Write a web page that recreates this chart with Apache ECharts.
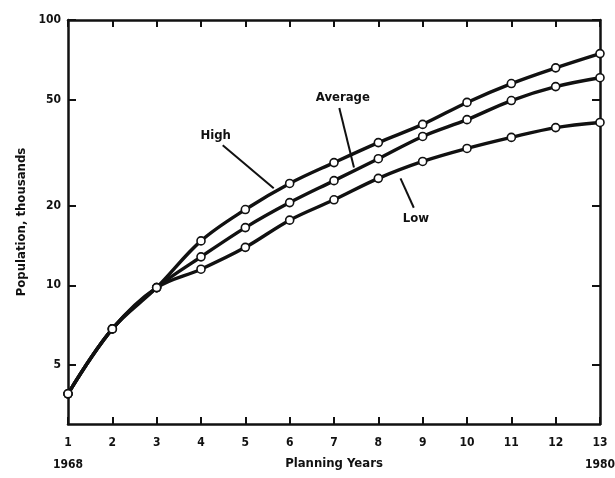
<!DOCTYPE html>
<html>
<head>
<meta charset="utf-8">
<script src="https://cdn.jsdelivr.net/npm/echarts@6/dist/echarts.min.js"></script>
<style>
  html, body { margin: 0; padding: 0; background: #fff; }
  #chart { width: 615px; height: 478px; }
</style>
</head>
<body>
<div id="chart"></div>
<script>
// planning years 1..13 (1968 .. 1980)
const years = [1, 2, 3, 4, 5, 6, 7, 8, 9, 10, 11, 12, 13];
// population, thousands
const highVals = [3.9, 6.85, 9.8, 14.7, 19.3, 24.2, 29, 34.5, 40.4, 48.9, 57.6, 66, 74.7];
const avgVals  = [3.9, 6.85, 9.8, 12.8, 16.5, 20.5, 24.8, 30, 36.4, 42.1, 49.7, 56.1, 60.6];
const lowVals  = [3.9, 6.85, 9.8, 11.5, 13.9, 17.6, 21, 25.3, 29.3, 32.8, 36.1, 39.3, 41.1];
const yTicks = [5, 10, 20, 50, 100];

// annotation labels and leader lines, in data coords
const noteLabels = [
  { text: 'High', at: [4.33, 36.7] },
  { text: 'Average', at: [7.2, 51] },
  { text: 'Low', at: [8.85, 17.9] }
];
const noteLines = [
  [[4.49, 33.7], [5.64, 23.2]],
  [[7.12, 46.6], [7.45, 27.8]],
  [[8.8, 19.6], [8.5, 25.3]]
];

const ink = '#111';
const font = 'DejaVu Sans Condensed';

function pairs(vals) {
  return years.map((x, i) => [x, vals[i]]);
}

function lineSeries(name, vals) {
  return {
    name: name,
    type: 'line',
    data: pairs(vals),
    smooth: 0.35,
    symbol: 'circle',
    symbolSize: 8,
    itemStyle: { color: '#fff', borderColor: ink, borderWidth: 1.6 },
    lineStyle: { color: ink, width: 3.4 },
    z: 3
  };
}

let chart = echarts.init(document.getElementById('chart'));

let axisBase = {
  type: 'value',
  min: 1,
  max: 13,
  interval: 1,
  axisLine: { show: true, lineStyle: { color: ink, width: 2.5 } },
  axisTick: { show: true, inside: true, length: 7, lineStyle: { color: ink, width: 2 } },
  splitLine: { show: false }
};

let option = {
  animation: false,
  backgroundColor: '#fff',
  grid: { left: 68, right: 15, top: 20, bottom: 54, containLabel: false, outerBoundsMode: 'none' },
  xAxis: [
    Object.assign({}, axisBase, {
      position: 'bottom',
      name: 'Planning Years',
      nameLocation: 'middle',
      nameGap: 33,
      nameMoveOverlap: false,
      nameTextStyle: { color: ink, fontFamily: font, fontWeight: 'bold', fontSize: 13 },
      axisLabel: {
        color: ink,
        fontFamily: font,
        fontWeight: 'bold',
        fontSize: 12,
        margin: 9,
        formatter: function (v) {
          if (v === 1) return '{n|1}\n{y|1968}';
          if (v === 13) return '{n|13}\n{y|1980}';
          return '{n|' + v + '}';
        },
        rich: {
          n: { fontFamily: font, fontWeight: 'bold', fontSize: 12, color: ink, lineHeight: 20 },
          y: { fontFamily: font, fontWeight: 'bold', fontSize: 12, color: ink, lineHeight: 24 }
        }
      }
    }),
    Object.assign({}, axisBase, {
      position: 'top',
      axisLabel: { show: false }
    })
  ],
  yAxis: [
    {
      type: 'log',
      logBase: 10,
      min: 3,
      max: 100,
      position: 'left',
      name: 'Population, thousands',
      nameLocation: 'middle',
      nameGap: 40,
      nameMoveOverlap: false,
      nameTextStyle: { color: ink, fontFamily: font, fontWeight: 'bold', fontSize: 13 },
      axisLine: { show: true, lineStyle: { color: ink, width: 2.5 } },
      axisTick: { show: true, inside: true, length: 8, customValues: yTicks, lineStyle: { color: ink, width: 2 } },
      axisLabel: {
        color: ink, fontFamily: font, fontWeight: 'bold', fontSize: 12, margin: 7,
        customValues: yTicks
      },
      splitLine: { show: false }
    },
    {
      type: 'log',
      logBase: 10,
      min: 3,
      max: 100,
      position: 'right',
      axisLine: { show: true, lineStyle: { color: ink, width: 2.5 } },
      axisTick: { show: true, inside: true, length: 8, customValues: yTicks, lineStyle: { color: ink, width: 2 } },
      axisLabel: { show: false, customValues: yTicks },
      splitLine: { show: false }
    }
  ],
  series: [
    lineSeries('High', highVals),
    lineSeries('Average', avgVals),
    lineSeries('Low', lowVals),
    {
      name: 'notes',
      type: 'line',
      data: [],
      markLine: {
        silent: true,
        symbol: 'none',
        label: { show: false },
        lineStyle: { color: ink, width: 2, type: 'solid' },
        data: noteLines.map(l => [{ coord: l[0] }, { coord: l[1] }])
      },
      markPoint: {
        silent: true,
        symbol: 'circle',
        symbolSize: 0,
        label: {
          show: true,
          position: 'inside',
          color: ink,
          fontFamily: font,
          fontWeight: 'bold',
          fontSize: 13,
          formatter: p => p.name
        },
        data: noteLabels.map(n => ({ name: n.text, coord: n.at }))
      }
    }
  ]
};

chart.setOption(option);
</script>
</body>
</html>
